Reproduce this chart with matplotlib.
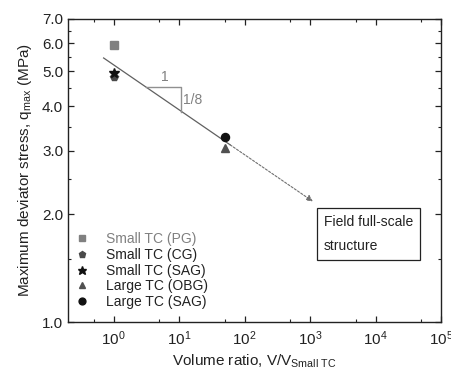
import matplotlib
matplotlib.use('Agg')
import matplotlib.pyplot as plt
from matplotlib.ticker import FixedLocator, FixedFormatter, NullFormatter

plt.rcParams['font.family'] = ['Liberation Sans', 'DejaVu Sans']
plt.rcParams['mathtext.default'] = 'regular'

# data
labels = ['Small TC (PG)', 'Small TC (CG)', 'Small TC (SAG)', 'Large TC (OBG)', 'Large TC (SAG)']
vol_ratio = [1, 1, 1, 50, 50]
q_max = [5.92, 4.82, 4.95, 3.06, 3.28]
markers = ['s', 'p', '*', '^', 'o']
colors = ['#808080', '#4a4a4a', '#111111', '#505050', '#111111']
text_colors = ['#808080', '#222222', '#222222', '#222222', '#222222']

# trend line q ~ V^(-1/8): solid fitted part and dashed extrapolation
fit_x = [0.7, 60]
fit_y = [5.45, 3.12]
extra_x = [60, 1100]
extra_y = [3.12, 2.17]

# slope triangle
tri_x = [3.1, 10.5, 10.5]
tri_y = [4.52, 4.52, 3.85]

y_ticks = [1.0, 2.0, 3.0, 4.0, 5.0, 6.0, 7.0]
y_minor = [1.5, 2.5, 3.5, 4.5, 5.5, 6.5]
x_ticks = [1, 10, 100, 1000, 10000, 100000]
x_tick_labels = ['$10^{0}$', '$10^{1}$', '$10^{2}$', '$10^{3}$', '$10^{4}$', '$10^{5}$']
x_minor = [0.5, 5, 50, 500, 5000, 50000]

fig = plt.figure(figsize=(4.51, 3.70), dpi=100)
ax = fig.add_axes([68 / 451, 1 - 322 / 370, 373 / 451, 303 / 370])

ax.plot(fit_x, fit_y, color='#606060', lw=0.9, zorder=2)
ax.annotate('', xy=(extra_x[1], extra_y[1]), xytext=(extra_x[0], extra_y[0]),
            arrowprops=dict(arrowstyle='-|>', color='#707070', lw=0.8,
                            linestyle=(0, (2, 1.5)), mutation_scale=9,
                            shrinkA=0, shrinkB=0))
ax.plot(tri_x, tri_y, color='#909090', lw=1.0, zorder=2)
ax.text(6.0, 4.62, '1', color='#808080', fontsize=10, ha='center', va='bottom')
ax.text(11.5, 4.15, '1/8', color='#808080', fontsize=10, ha='left', va='center')

for x, y, m, c, lab in zip(vol_ratio, q_max, markers, colors, labels):
    ms = 7.5 if m == '*' else 5.8
    ax.plot([x], [y], marker=m, ms=ms, color=c, ls='none', label=lab, zorder=3)

ax.text(1620, 1.76, 'Field full-scale\nstructure', fontsize=10, ha='left', va='center',
        linespacing=1.9, color='#222222',
        bbox=dict(boxstyle='square,pad=0.5', fc='white', ec='#222222', lw=0.9))

ax.set_xscale('log')
ax.set_yscale('log')
ax.set_xlim(0.2, 1e5)
ax.set_ylim(1.0, 7.0)

ax.xaxis.set_major_locator(FixedLocator(x_ticks))
ax.xaxis.set_major_formatter(FixedFormatter(x_tick_labels))
ax.xaxis.set_minor_locator(FixedLocator(x_minor))
ax.xaxis.set_minor_formatter(NullFormatter())
ax.yaxis.set_major_locator(FixedLocator(y_ticks))
ax.yaxis.set_major_formatter(FixedFormatter([f'{v:.1f}' for v in y_ticks]))
ax.yaxis.set_minor_locator(FixedLocator(y_minor))
ax.yaxis.set_minor_formatter(NullFormatter())

ax.tick_params(which='both', direction='in', top=True, right=True,
               labelsize=11, colors='#222222')
ax.tick_params(which='major', length=4, width=0.9)
ax.tick_params(which='minor', length=2.5, width=0.8)
ax.tick_params(axis='x', pad=5)
for s in ax.spines.values():
    s.set_linewidth(1.0)
    s.set_color('#222222')

ax.set_xlabel('Volume ratio, V/V$_{Small\\ TC}$', fontsize=11, color='#222222', labelpad=4)
ax.set_ylabel('Maximum deviator stress, q$_{max}$ (MPa)', fontsize=11, color='#222222', labelpad=6)

leg = ax.legend(loc='lower left', bbox_to_anchor=(0.0, 0.02), frameon=False, fontsize=10,
                handlelength=1.0, handletextpad=1.2, labelspacing=0.12,
                borderaxespad=0.1, numpoints=1, markerscale=0.85)
for t, c in zip(leg.get_texts(), text_colors):
    t.set_color(c)

fig.savefig('out.png', dpi=100)
